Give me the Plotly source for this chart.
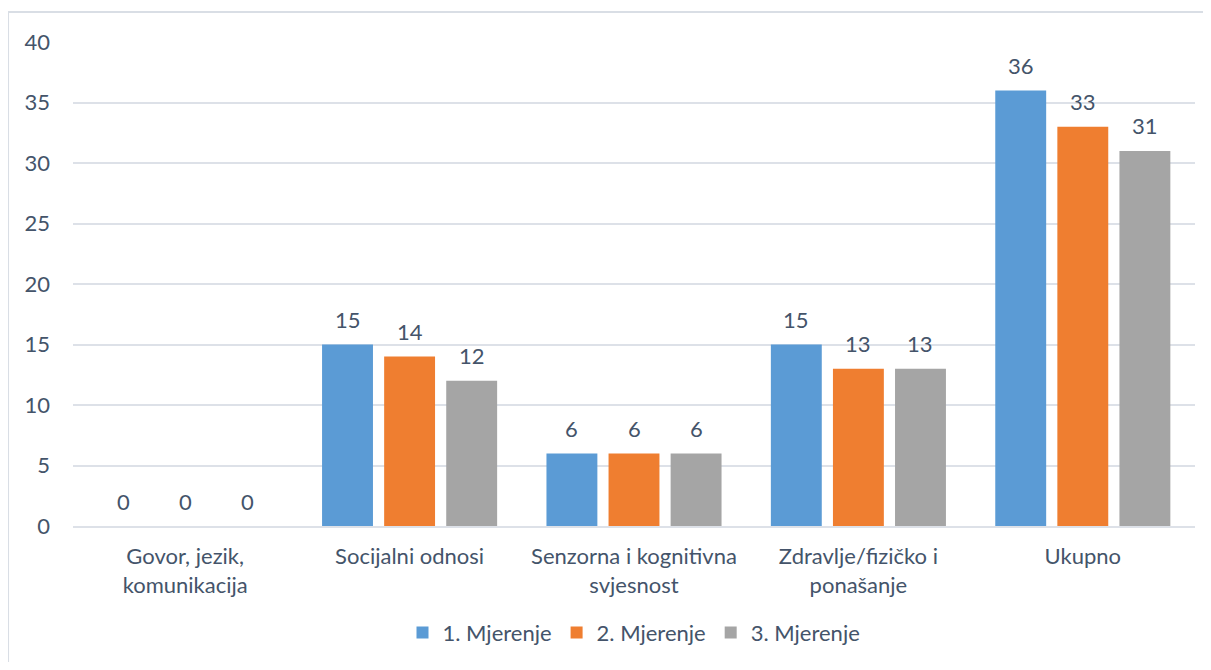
import plotly.graph_objects as go

categories = ["Govor, jezik,<br>komunikacija", "Socijalni odnosi", "Senzorna i kognitivna<br>svjesnost",
              "Zdravlje/fizičko i<br>ponašanje", "Ukupno"]
series_names = ["1. Mjerenje", "2. Mjerenje", "3. Mjerenje"]
mjerenje1 = [0, 15, 6, 15, 36]
mjerenje2 = [0, 14, 6, 13, 33]
mjerenje3 = [0, 12, 6, 13, 31]
y_ticks = [0, 5, 10, 15, 20, 25, 30, 35, 40]

colors = ["#5B9BD5", "#EF7E30", "#A5A5A5"]
text_color = "#44546A"
font_family = "Lato, 'Open Sans', sans-serif"
FS = 22
BARGAP = 0.17

series = [mjerenje1, mjerenje2, mjerenje3]
fig = go.Figure()
for name, vals, col in zip(series_names, series, colors):
    fig.add_trace(go.Bar(
        x=categories, y=vals, name=name,
        marker=dict(color=col, line=dict(width=0)),
    ))

# data labels above each bar, placed at the bar's group slot
slot = (1 - BARGAP) / len(series)
annotations = []
for j, vals in enumerate(series):
    for i, v in enumerate(vals):
        annotations.append(dict(
            x=i + (j - (len(series) - 1) / 2) * slot, y=v, xref="x", yref="y",
            text=str(v), showarrow=False, yanchor="middle", yshift=25,
            font=dict(size=FS, color=text_color, family=font_family),
        ))

fig.update_layout(
    width=1195, height=654,
    margin=dict(l=65, r=8, t=34, b=136),
    paper_bgcolor="white", plot_bgcolor="white",
    barmode="group", bargap=BARGAP, bargroupgap=0.18,
    font=dict(family=font_family, size=FS, color=text_color),
    showlegend=True,
    legend=dict(orientation="h", x=0.5, xanchor="center", y=-0.177, yanchor="top",
                font=dict(size=FS, color=text_color), itemwidth=30, traceorder="normal"),
    xaxis=dict(showgrid=False, showline=True, linecolor="#DDE1E8", linewidth=2,
               ticks="", tickfont=dict(size=FS, color=text_color), ticklabelstandoff=10),
    yaxis=dict(range=[0, 40], tickvals=y_ticks, showgrid=True, gridcolor="#DDE1E8", gridwidth=2,
               zeroline=False, ticks="", tickfont=dict(size=FS, color=text_color),
               ticklabelstandoff=22),
    annotations=annotations,
    shapes=[
        dict(type="line", xref="paper", yref="paper", x0=-0.0579, x1=1.2, y0=1.062, y1=1.062,
             line=dict(color="#D9DEE5", width=2), layer="below"),
        dict(type="line", xref="paper", yref="paper", x0=-0.0579, x1=-0.0579, y0=1.062, y1=-0.6,
             line=dict(color="#D9DEE5", width=2), layer="below"),
    ],
)

fig.write_html("out.html")
